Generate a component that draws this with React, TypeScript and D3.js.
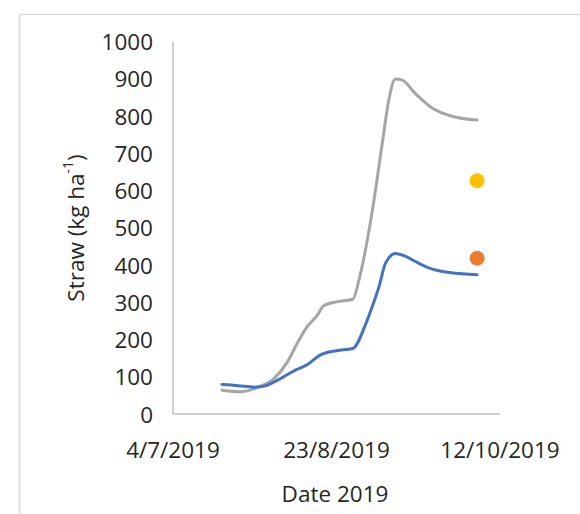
import React from "react";
import * as d3 from "d3";

const blueDates = ["2019-07-19","2019-07-24","2019-07-29","2019-08-01","2019-08-05","2019-08-10","2019-08-14","2019-08-18","2019-08-23","2019-08-28","2019-09-01","2019-09-03","2019-09-05","2019-09-07","2019-09-10","2019-09-13","2019-09-16","2019-09-20","2019-09-27","2019-10-05"];
const blueValues = [79,76,72,75,91,116,132,158,170,176,243,290,342,405,431,424,410,393,379,374];

const grayDates = ["2019-07-19","2019-07-25","2019-07-30","2019-08-04","2019-08-08","2019-08-11","2019-08-14","2019-08-16","2019-08-17","2019-08-19","2019-08-23","2019-08-28","2019-08-30","2019-09-03","2019-09-06","2019-09-08","2019-09-10","2019-09-12","2019-09-16","2019-09-21","2019-09-27","2019-10-05"];
const grayValues = [64,60,72,96,140,190,234,254,263,290,301,308,365,548,727,843,899,897,861,823,800,789];

const pointDate = "2019-10-05";
const yellowValue = 626;
const orangeValue = 418;

const xTickDates = ["2019-07-04","2019-08-23","2019-10-12"];
const xTickLabels = ["4/7/2019","23/8/2019","12/10/2019"];
const yTicks = [0,100,200,300,400,500,600,700,800,900,1000];

const parse = d3.timeParse("%Y-%m-%d");

export default function App() {
  const x = d3.scaleTime().domain([parse("2019-07-04")!, parse("2019-10-12")!]).range([173, 500]);
  const y = d3.scaleLinear().domain([0, 1000]).range([414, 41.5]);
  const line = d3.line<[Date, number]>().x(d => x(d[0])).y(d => y(d[1])).curve(d3.curveMonotoneX);
  const blue = blueDates.map((d, i) => [parse(d)!, blueValues[i]] as [Date, number]);
  const gray = grayDates.map((d, i) => [parse(d)!, grayValues[i]] as [Date, number]);
  const font = "'Open Sans', sans-serif";
  const txt = "#262626";
  const fs = 22.5;
  return (
    <svg width={580} height={514} style={{ position: "absolute", left: 0, top: 0, background: "#fff" }} fontFamily={font}>
      <path d="M19.5,600 V14.5 H600" fill="none" stroke="#d9d9d9" strokeWidth={1.5} />
      <line x1={173} x2={173} y1={y(1000)} y2={y(0)} stroke="#bfbfbf" strokeWidth={1.5} />
      <line x1={173} x2={500} y1={y(0)} y2={y(0)} stroke="#bfbfbf" strokeWidth={1.5} />
      {yTicks.map(t => (
        <text key={t} x={153} y={y(t)} textAnchor="end" dominantBaseline="central" fontSize={fs} fill={txt}>{t}</text>
      ))}
      {xTickDates.map((d, i) => (
        <text key={d} x={x(parse(d)!)} y={449} textAnchor="middle" dominantBaseline="central" fontSize={fs} fill={txt}>{xTickLabels[i]}</text>
      ))}
      <text x={335} y={493} textAnchor="middle" dominantBaseline="central" fontSize={fs} fill={txt}>Date 2019</text>
      <text transform="translate(75,228) rotate(-90)" textAnchor="middle" dominantBaseline="central" fontSize={fs} fill={txt}>
        Straw (kg ha<tspan fontSize={14} dy={-8}>-1</tspan><tspan dy={8}>)</tspan>
      </text>
      <path d={line(gray)!} fill="none" stroke="#a5a5a5" strokeWidth={3} strokeLinejoin="round" strokeLinecap="round" />
      <path d={line(blue)!} fill="none" stroke="#4472c4" strokeWidth={3} strokeLinejoin="round" strokeLinecap="round" />
      <circle cx={x(parse(pointDate)!)} cy={y(yellowValue)} r={7.5} fill="#ffc000" />
      <circle cx={x(parse(pointDate)!)} cy={y(orangeValue)} r={7.5} fill="#ed7d31" />
    </svg>
  );
}
